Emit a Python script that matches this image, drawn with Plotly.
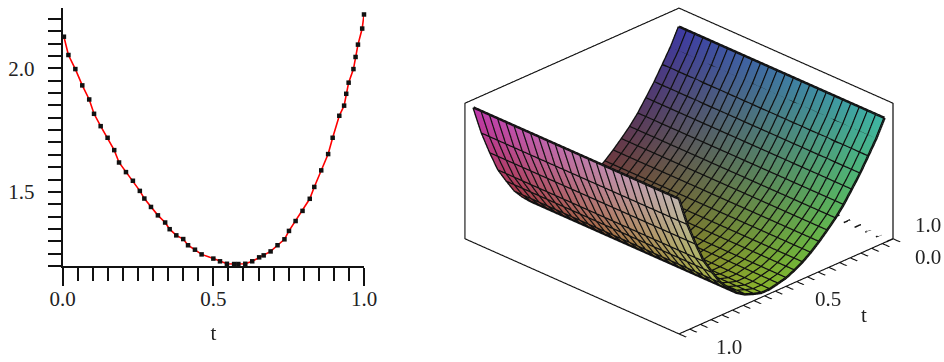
import plotly.graph_objects as go

curve_t = [.004,.019,.042,.065,.088,.104,.126,.149,.171,.187,.210,.233,.256,.271,.293,.316,.340,.355,.377,.400,.416,.439,.461,.500,.522,.545,.569,.583,.606,.629,.652,.667,.690,.713,.736,.751,.773,.796,.820,.835,.858,.881,.896,.918,.934,.941,.949,.965,.972,.980,.994,1.0]
curve_v = [2.128,2.054,1.997,1.931,1.874,1.816,1.766,1.719,1.669,1.619,1.580,1.545,1.504,1.473,1.439,1.405,1.376,1.349,1.324,1.309,1.284,1.266,1.247,1.230,1.219,1.209,1.208,1.208,1.209,1.219,1.235,1.243,1.259,1.284,1.308,1.342,1.382,1.423,1.472,1.520,1.587,1.653,1.719,1.808,1.849,1.897,1.942,1.997,2.046,2.096,2.161,2.218]

grid_t = [.02,.058,.097,.135,.174,.212,.25,.289,.327,.366,.404,.442,.481,.519,.558,.596,.634,.673,.711,.75,.788,.826,.865,.903,.942,.98]
grid_s = list(grid_t)
grid_z = [2.13,2.00,1.89,1.785,1.69,1.60,1.525,1.46,1.40,1.345,1.30,1.265,1.235,1.22,1.205,1.205,1.225,1.25,1.29,1.355,1.43,1.535,1.65,1.81,1.99,2.21]

Z_MIN, Z_MAX = 1.2, 2.243
t_ticks = [i * 0.05 for i in range(21)]

def rgb(t, s, z):
    zn = (z - Z_MIN) / (Z_MAX - Z_MIN)
    return f"rgb({int(60+135*t)},{int(55+130*s)},{int(45+135*zn)})"

vx, vy, vz, vc, fi, fj, fk = [], [], [], [], [], [], []
n = len(grid_t)
for a, s in enumerate(grid_s):
    for b, t in enumerate(grid_t):
        vx.append(t); vy.append(s); vz.append(grid_z[b]); vc.append(rgb(t, s, grid_z[b]))
for a in range(n - 1):
    for b in range(n - 1):
        p = a * n + b
        fi += [p, p]; fj += [p + 1, p + n + 1]; fk += [p + n + 1, p + n]

lx, ly, lz = [], [], []
for s in grid_s:
    for t, z in zip(grid_t, grid_z):
        lx.append(t); ly.append(s); lz.append(z)
    lx.append(None); ly.append(None); lz.append(None)
for t, z in zip(grid_t, grid_z):
    for s in grid_s:
        lx.append(t); ly.append(s); lz.append(z)
    lx.append(None); ly.append(None); lz.append(None)

fig = go.Figure()
fig.add_trace(go.Scatter(x=curve_t, y=curve_v, mode="lines+markers", cliponaxis=False,
                         line=dict(color="#ff0000", width=1.6),
                         marker=dict(symbol="square", size=4.5, color="#111111"),
                         showlegend=False, hoverinfo="skip"))
fig.add_trace(go.Mesh3d(x=vx, y=vy, z=vz, i=fi, j=fj, k=fk, vertexcolor=vc, flatshading=False,
                        lighting=dict(ambient=1, diffuse=0, specular=0, fresnel=0), hoverinfo="skip", scene="scene"))
fig.add_trace(go.Scatter3d(x=lx, y=ly, z=lz, mode="lines", line=dict(color="#111111", width=5),
                           showlegend=False, hoverinfo="skip", scene="scene"))
sx, sy, sz = [], [], []
for s in t_ticks:
    sx += [0, 0.03, None]; sy += [s, s, None]; sz += [Z_MIN, Z_MIN, None]
fig.add_trace(go.Scatter3d(x=sx, y=sy, z=sz, mode="lines", line=dict(color="#111111", width=3),
                           showlegend=False, hoverinfo="skip", scene="scene"))

font = dict(family="Liberation Serif", size=21, color="#222222")
def plain3(zr):
    return dict(title=dict(text=""), range=zr, autorange=False, showgrid=False, zeroline=False,
                showbackground=False, showline=True, linecolor="#111111", linewidth=2.5, mirror=True,
                ticks="", showticklabels=False, showspikes=False)
xaxis3 = plain3([0, 1])
xaxis3.update(ticks="outside", tickmode="array", tickvals=t_ticks, ticklen=8, tickcolor="#111111", tickwidth=3)

W, H = 944, 362
fig.update_layout(
    width=W, height=H, autosize=False, paper_bgcolor="white", plot_bgcolor="white",
    margin=dict(l=0, r=0, t=0, b=0), showlegend=False,
    font=font,
    xaxis=dict(automargin=False, domain=[62.7/W, 364/W], range=[0, 1], showgrid=False, zeroline=False, showline=True,
               linecolor="#111111", linewidth=2, ticks="outside", ticklen=18, tickwidth=2, tickcolor="#111111",
               tickvals=[0, .5, 1], ticktext=["0.0", "0.5", "1.0"], tickfont=font, ticklabelstandoff=-5,
               minor=dict(ticks="outside", ticklen=13, tickwidth=2, tickcolor="#111111", tickmode="array", tickvals=t_ticks),
               title=dict(text="t", font=font, standoff=15)),
    yaxis=dict(automargin=False, domain=[(H-266)/H, (H-8.3)/H], range=[1.2, 2.243], showgrid=False, zeroline=False, showline=True,
               linecolor="#111111", linewidth=2, ticks="outside", ticklen=13, tickwidth=2, tickcolor="#111111",
               tickvals=[1.5, 2.0], ticktext=["1.5", "2.0"], tickfont=font, ticklabelstandoff=9,
               minor=dict(ticks="outside", ticklen=13, tickwidth=2, tickcolor="#111111", tickmode="array",
                          tickvals=[1.2 + i * 0.05 for i in range(21)])),
    scene=dict(
        domain=dict(x=[414/W, 1], y=[20/H, 1]),
        aspectmode="manual", aspectratio=dict(x=1.77, y=1.77, z=0.885),
        camera=dict(projection=dict(type="orthographic"), eye=dict(x=1.25, y=1.25, z=.877), up=dict(x=0, y=0, z=1),
                    center=dict(x=0, y=0, z=0)),
        xaxis=xaxis3, yaxis=plain3([0, 1]), zaxis=plain3([Z_MIN, Z_MAX]),
        annotations=[
            dict(x=0, y=1, z=Z_MIN, text="1.0", showarrow=False, xshift=35, yshift=14, font=font),
            dict(x=0, y=1, z=Z_MIN, text="0.0", showarrow=False, xshift=35, yshift=-18, font=font),
            dict(x=.5, y=1, z=Z_MIN, text="0.5", showarrow=False, xshift=42, yshift=-13, font=font),
            dict(x=1, y=1, z=Z_MIN, text="1.0", showarrow=False, xshift=50, yshift=-13, font=font),
            dict(x=.5, y=1, z=Z_MIN, text="t", showarrow=False, xshift=78, yshift=-29, font=font),
        ],
    ),
)
fig.write_html("out.html", config=dict(displayModeBar=False, responsive=False),
               post_script="document.body.style.margin='0';")
